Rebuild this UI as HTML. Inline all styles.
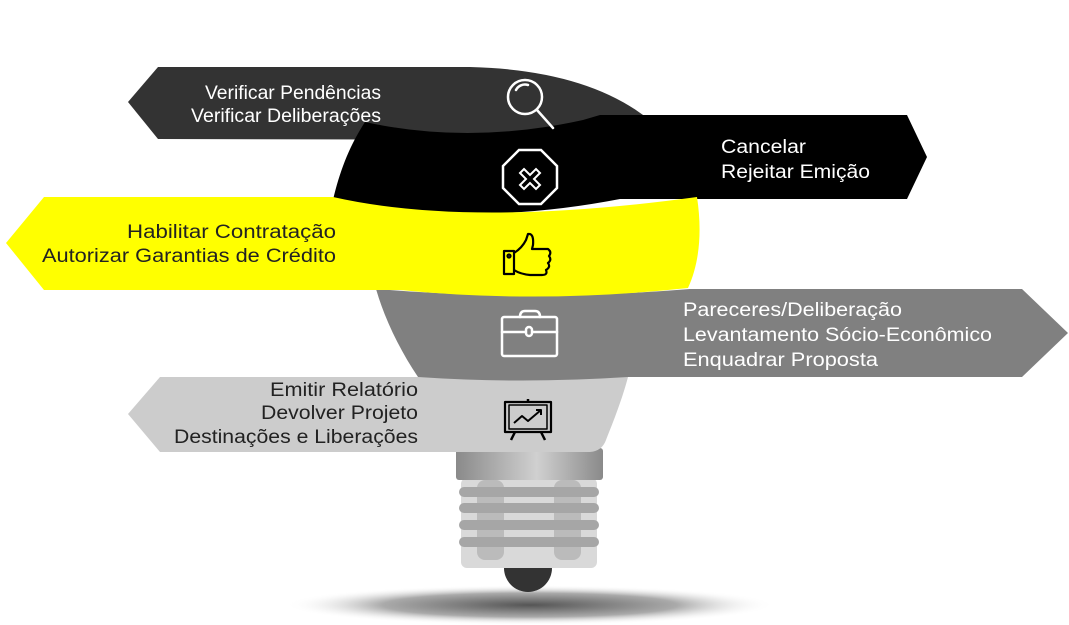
<!DOCTYPE html>
<html><head><meta charset="utf-8"><style>
html,body{margin:0;padding:0;background:#fff;}
svg{display:block}
text{font-family:"Liberation Sans",sans-serif;font-size:19px;}
</style></head><body>
<svg width="1069" height="625" viewBox="0 0 1069 625">
<defs>
<radialGradient id="sh" cx="0.5" cy="0.5" r="0.5">
<stop offset="0" stop-color="#555"/><stop offset="0.6" stop-color="#aaa"/><stop offset="1" stop-color="#fff" stop-opacity="0"/>
</radialGradient>
<linearGradient id="col" x1="0" x2="1">
<stop offset="0" stop-color="#8a8a8a"/><stop offset="0.55" stop-color="#d0d0d0"/><stop offset="1" stop-color="#8a8a8a"/>
</linearGradient>
</defs>
<ellipse cx="530" cy="605" rx="245" ry="20" fill="url(#sh)"/>
<rect x="461" y="478" width="136" height="90" rx="6" fill="#d9d9d9"/>
<rect x="477" y="480" width="27" height="80" rx="8" fill="#bbbbbb"/>
<rect x="554" y="480" width="27" height="80" rx="8" fill="#bbbbbb"/>
<rect x="459" y="487" width="140" height="10" rx="5" fill="#a6a6a6"/>
<rect x="459" y="503" width="140" height="10" rx="5" fill="#a6a6a6"/>
<rect x="459" y="520" width="140" height="10" rx="5" fill="#a6a6a6"/>
<rect x="459" y="537" width="140" height="10" rx="5" fill="#a6a6a6"/>
<path d="M504 568 A24 24 0 0 0 552 568 Z" fill="#333"/>
<rect x="456" y="448" width="147" height="32" rx="3" fill="url(#col)"/>
<path d="M160 377 L628 377 C622 400 612 425 606 440 Q602 451 590 452 L160 452 L128 414 Z" fill="#cccccc"/>
<path d="M376 289 Q530 302 690 289 L1022 289 L1068 333 L1022 377 L628 377 Q520 384 418 377 C400 350 385 320 376 289 Z" fill="#808080"/>
<path d="M158 67 L470 67 Q590 70 652 122 L600 140 L158 139 L128 102 Z" fill="#333333"/>
<path d="M365 122 Q470 145 583 120 L600 115 L907 115 L927 157 L907 199 L620 199 Q470 228 333 200 C340 170 350 145 365 122 Z" fill="#000"/>
<path d="M44 197 L333 197 Q470 228 697 197 C702 230 700 262 688 288 Q540 304 400 290 L44 290 L6 243 Z" fill="#ffff00"/>
<g fill="none" stroke="#fff" stroke-width="2.5" stroke-linecap="round">
<circle cx="525" cy="97" r="17"/><path d="M516 90 A10 10 0 0 1 528 85"/>
<path d="M537 110 L553 128"/>
<polygon points="519,150 541,150 557,166 557,188 541,204 519,204 503,188 503,166"/>
<path d="M524 169 L530 175 L536 169 L540 173 L534 179 L540 185 L536 189 L530 183 L524 189 L520 185 L526 179 L520 173 Z" stroke-width="2"/>
<rect x="502" y="317" width="55" height="39" rx="2"/>
<path d="M502 332 L557 332"/><path d="M520 317 Q520 311 525 311 L535 311 Q540 311 540 317"/>
<rect x="526" y="327" width="6" height="9" rx="3" fill="#808080"/>
</g>
<g fill="none" stroke="#000" stroke-width="2.2" stroke-linejoin="round">
<rect x="504" y="251" width="10" height="23"/><circle cx="509" cy="256" r="1.5"/>
<path d="M514 253 Q522 248 526 240 L528 234 Q534 233 533 245 L532 249 L548 249 Q552 252 549 256 Q552 260 548 263 Q551 267 546 270 Q548 275 542 275 L530 275 Q520 274 514 270"/>
<rect x="505" y="402" width="46" height="30"/><rect x="509" y="405" width="38" height="24" stroke-width="1.5"/>
<path d="M514 423 L522 416 L528 421 L541 410 M536 410 L541 410 L541 415" stroke-width="2"/>
<path d="M528 399 L528 402 M515 432 L511 440 M541 432 L545 440" stroke-width="2.5"/>
</g>
<g fill="#fff">
<text x="205" y="99" textLength="176" lengthAdjust="spacingAndGlyphs">Verificar Pendências</text>
<text x="191" y="122" textLength="190" lengthAdjust="spacingAndGlyphs">Verificar Deliberações</text>
<text x="721" y="153" textLength="85" lengthAdjust="spacingAndGlyphs">Cancelar</text>
<text x="721" y="178" textLength="149" lengthAdjust="spacingAndGlyphs">Rejeitar Emição</text>
<text x="683" y="316" textLength="219" lengthAdjust="spacingAndGlyphs">Pareceres/Deliberação</text>
<text x="683" y="341" textLength="309" lengthAdjust="spacingAndGlyphs">Levantamento Sócio-Econômico</text>
<text x="683" y="366" textLength="195" lengthAdjust="spacingAndGlyphs">Enquadrar Proposta</text>
</g>
<g fill="#222">
<text x="127" y="238" textLength="209" lengthAdjust="spacingAndGlyphs">Habilitar Contratação</text>
<text x="42" y="262" textLength="294" lengthAdjust="spacingAndGlyphs">Autorizar Garantias de Crédito</text>
<text x="270" y="396" textLength="148" lengthAdjust="spacingAndGlyphs">Emitir Relatório</text>
<text x="261" y="419" textLength="157" lengthAdjust="spacingAndGlyphs">Devolver Projeto</text>
<text x="174" y="443" textLength="244" lengthAdjust="spacingAndGlyphs">Destinações e Liberações</text>
</g>
</svg>
</body></html>
